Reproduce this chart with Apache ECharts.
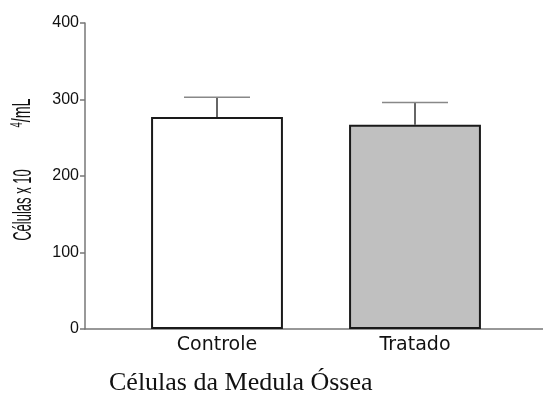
<!DOCTYPE html>
<html>
<head>
<meta charset="utf-8">
<script src="https://cdn.jsdelivr.net/npm/echarts@6/dist/echarts.min.js"></script>
<style>html,body{margin:0;padding:0;background:#fff}#c{width:543px;height:394px}</style>
</head>
<body>
<div id="c"></div>
<script>
const categories = ['Controle', 'Tratado'];
const means = [277, 267];
const errors = [26, 29];
const barColors = ['#ffffff', '#c0c0c0'];
const yTicks = [0, 100, 200, 300, 400];

const chart = echarts.init(document.getElementById('c'), null, {renderer: 'canvas'});
const TOP = 23, BOTTOM = 65;
chart.setOption({
  animation: false,
  backgroundColor: '#fff',
  title: {
    text: 'Células da Medula Óssea',
    left: 104, top: 365,
    textStyle: {fontFamily: 'Liberation Serif', fontSize: 26, fontWeight: 'normal', color: '#111'}
  },
  grid: [
    {left: 85, right: 0, top: TOP, bottom: BOTTOM},
    {left: 118, width: 396, top: TOP, bottom: BOTTOM}
  ],
  xAxis: [
    {gridIndex: 0, type: 'value', min: 0, max: 1, axisLine: {show: true, lineStyle: {color: '#777', width: 1.5}},
     axisTick: {show: false}, axisLabel: {show: false}, splitLine: {show: false}},
    {gridIndex: 1, type: 'category', data: categories, axisLine: {show: false}, axisTick: {show: false},
     axisLabel: {margin: 7, fontFamily: 'DejaVu Sans', fontSize: 19, color: '#111'}}
  ],
  yAxis: [
    {gridIndex: 0, type: 'value', min: yTicks[0], max: yTicks[yTicks.length - 1], interval: 100,
     axisLine: {show: true, lineStyle: {color: '#777', width: 1.5}},
     axisTick: {show: true, length: 5, lineStyle: {color: '#777', width: 1.5}},
     axisLabel: {margin: 6, fontFamily: 'Liberation Sans', fontSize: 16, color: '#111'},
     splitLine: {show: false}},
    {gridIndex: 1, type: 'value', min: 0, max: 400, show: false}
  ],
  graphic: [
    {type: 'text', x: 24, y: 205, rotation: Math.PI / 2, scaleX: 0.5,
     style: {text: 'Células x 10', font: '26px "Liberation Sans"', fill: '#111', align: 'center', verticalAlign: 'middle'}},
    {type: 'text', x: 23, y: 113, rotation: Math.PI / 2, scaleX: 0.55,
     style: {text: '{s|4}{n|/mL}', fill: '#111', align: 'center', verticalAlign: 'middle',
       rich: {s: {font: '17px "Liberation Sans"', fill: '#111', verticalAlign: 'top', padding: [0, 0, 12, 0]},
              n: {font: '26px "Liberation Sans"', fill: '#111'}}}}
  ],
  series: [
    {type: 'bar', xAxisIndex: 1, yAxisIndex: 1, barWidth: '66.6%',
     data: means.map((v, i) => ({value: v, itemStyle: {color: barColors[i]}})),
     itemStyle: {borderColor: '#1a1a1a', borderWidth: 2}},
    {type: 'custom', xAxisIndex: 1, yAxisIndex: 1, z: 3,
     data: means.map((v, i) => [i, v, v + errors[i]]),
     renderItem: function (params, api) {
       const base = api.coord([api.value(0), api.value(1)]);
       const top = api.coord([api.value(0), api.value(2)]);
       const half = api.size([1, 0])[0] / 6;
       return {type: 'group', children: [
         {type: 'line', shape: {x1: base[0], y1: base[1], x2: top[0], y2: top[1]}, style: {stroke: '#333', lineWidth: 1.5}},
         {type: 'line', shape: {x1: top[0] - half, y1: top[1], x2: top[0] + half, y2: top[1]}, style: {stroke: '#888', lineWidth: 1.5}}
       ]};
     }}
  ]
});
</script>
</body>
</html>
